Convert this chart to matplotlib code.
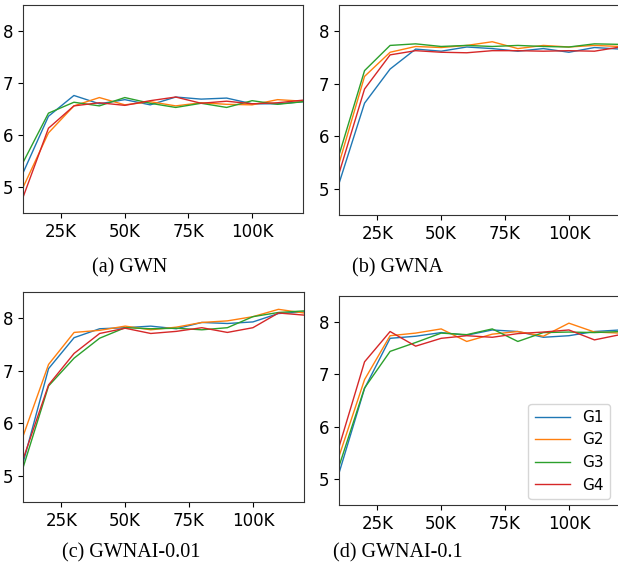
import numpy as np
import matplotlib
matplotlib.use("Agg")
import matplotlib.pyplot as plt

# training steps (thousands)
steps = [10, 20, 30, 40, 50, 60, 70, 80, 90, 100, 110, 120]
groups = ["G1", "G2", "G3", "G4"]
colors = ["#1f77b4", "#ff7f0e", "#2ca02c", "#d62728"]

# (a) GWN
gwn_g1 = [5.27, 6.36, 6.76, 6.60, 6.68, 6.58, 6.73, 6.69, 6.71, 6.60, 6.60, 6.64]
gwn_g2 = [4.99, 6.04, 6.56, 6.72, 6.58, 6.64, 6.56, 6.62, 6.59, 6.58, 6.68, 6.65]
gwn_g3 = [5.47, 6.42, 6.63, 6.56, 6.72, 6.61, 6.53, 6.61, 6.53, 6.66, 6.59, 6.64]
gwn_g4 = [4.80, 6.13, 6.56, 6.62, 6.57, 6.66, 6.73, 6.61, 6.65, 6.60, 6.62, 6.67]

# (b) GWNA
gwna_g1 = [5.10, 6.63, 7.28, 7.66, 7.62, 7.70, 7.67, 7.62, 7.67, 7.60, 7.69, 7.66]
gwna_g2 = [5.48, 7.14, 7.60, 7.71, 7.69, 7.73, 7.80, 7.67, 7.73, 7.70, 7.73, 7.71]
gwna_g3 = [5.64, 7.25, 7.73, 7.76, 7.71, 7.73, 7.71, 7.73, 7.71, 7.70, 7.76, 7.75]
gwna_g4 = [5.29, 6.90, 7.55, 7.63, 7.60, 7.59, 7.63, 7.63, 7.62, 7.63, 7.62, 7.70]

# (c) GWNAI-0.01
gwnai01_g1 = [5.24, 7.04, 7.63, 7.80, 7.82, 7.85, 7.80, 7.92, 7.90, 7.93, 8.09, 8.12]
gwnai01_g2 = [5.75, 7.12, 7.73, 7.77, 7.85, 7.78, 7.83, 7.92, 7.95, 8.03, 8.17, 8.10]
gwnai01_g3 = [5.15, 6.71, 7.24, 7.62, 7.82, 7.80, 7.81, 7.78, 7.82, 8.03, 8.11, 8.14]
gwnai01_g4 = [5.31, 6.73, 7.33, 7.71, 7.81, 7.71, 7.75, 7.82, 7.73, 7.82, 8.10, 8.06]

# (d) GWNAI-0.1
gwnai1_g1 = [5.11, 6.73, 7.69, 7.73, 7.80, 7.75, 7.85, 7.82, 7.71, 7.74, 7.82, 7.85]
gwnai1_g2 = [5.43, 6.90, 7.74, 7.79, 7.87, 7.63, 7.77, 7.82, 7.73, 7.98, 7.81, 7.79]
gwnai1_g3 = [5.24, 6.74, 7.44, 7.61, 7.79, 7.76, 7.87, 7.63, 7.80, 7.81, 7.80, 7.82]
gwnai1_g4 = [5.61, 7.24, 7.82, 7.54, 7.69, 7.74, 7.71, 7.78, 7.81, 7.85, 7.66, 7.76]

panels = [
    ("(a) GWN", [gwn_g1, gwn_g2, gwn_g3, gwn_g4]),
    ("(b) GWNA", [gwna_g1, gwna_g2, gwna_g3, gwna_g4]),
    ("(c) GWNAI-0.01", [gwnai01_g1, gwnai01_g2, gwnai01_g3, gwnai01_g4]),
    ("(d) GWNAI-0.1", [gwnai1_g1, gwnai1_g2, gwnai1_g3, gwnai1_g4]),
]

W, H = 618, 571
fig = plt.figure(figsize=(W / 100, H / 100), dpi=100)

# axes boxes in pixels: left, top, right, bottom
boxes = [(23, 5, 303, 213), (339, 5, 620, 215),
         (23, 292, 304, 502), (339, 296, 620, 505)]
caption_pos = [(130, 268), (398, 268), (131, 553), (398, 553)]

for i, ((title, series), box) in enumerate(zip(panels, boxes)):
    l, t, r, b = box
    ax = fig.add_axes([l / W, 1 - b / H, (r - l) / W, (b - t) / H])
    for name, ys, c in zip(groups, series, colors):
        ax.plot(steps, ys, color=c, lw=1.0, label=name)
    ax.set_xlim(10, 120)
    ax.set_ylim(4.5, 8.5)
    ax.set_xticks([25, 50, 75, 100])
    ax.set_xticklabels(["25K", "50K", "75K", "100K"])
    ax.set_yticks([5, 6, 7, 8])
    ax.tick_params(labelsize=12)
    for sp in ax.spines.values():
        sp.set_color("#333333")
    if i == 3:
        ax.legend(loc="lower right", fontsize=11, handlelength=2.3,
                  borderaxespad=0.4, bbox_to_anchor=(0.985, 0.0))
    cx, cy = caption_pos[i]
    fig.text(cx / W, 1 - cy / H, title, ha="center", va="center",
             fontsize=14.5, family="Liberation Serif")

fig.savefig("out.png", dpi=100)
